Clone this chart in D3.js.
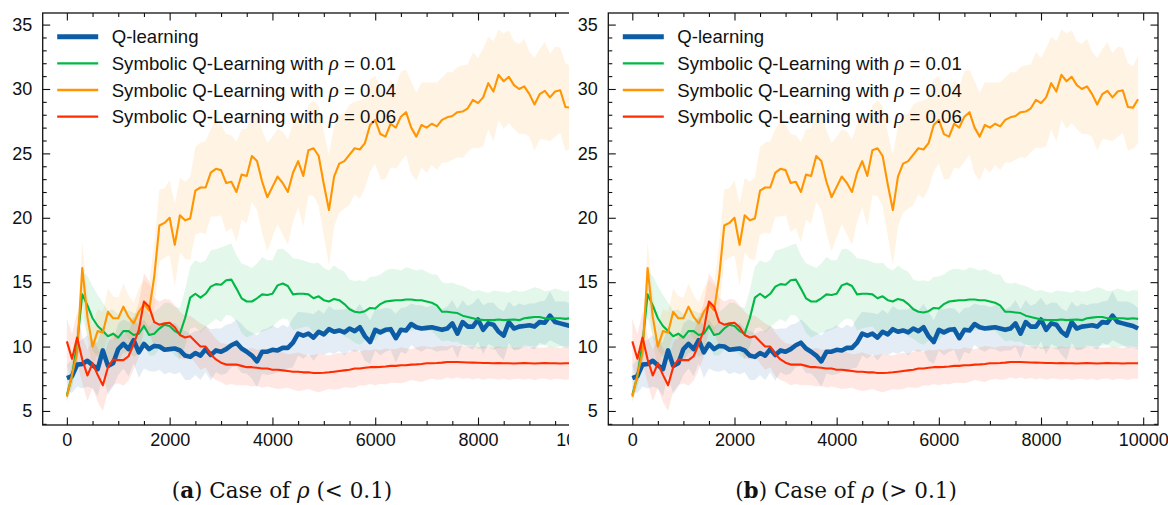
<!DOCTYPE html>
<html>
<head>
<meta charset="utf-8">
<script src="https://cdn.jsdelivr.net/npm/d3@7"></script>
<style>
  body { margin: 0; background: #fff; }
  svg { display: block; font-family: "Liberation Sans", Arial, Helvetica, sans-serif; }
  .tick text { font-size: 18px; fill: #111; }
  .tick line { stroke: #111; stroke-width: 1.1; }
  .legend text { font-size: 18.6px; fill: #111; }
  .caption { font-family: "DejaVu Serif", "Liberation Serif", serif; font-size: 21.5px; fill: #111; }
</style>
</head>
<body>
<svg id="chart" width="1168" height="505"></svg>
<script>
// training steps (x), one point every 100 steps
const steps = d3.range(0, 10000, 100);

const seriesNames = ["Q-learning", "0.01", "0.04", "0.06"];

const qLearning = [7.55,7.7,8.6,8.65,8.9,8.55,8.25,9.7,8.5,8.7, 9.8,10.2,9.8,10.5,9.55,10.2,9.8,10.05,10.0,9.75,
  9.8,9.85,9.7,9.3,9.2,9.5,9.3,9.8,9.35,9.7, 9.6,9.8,10.1,10.3,9.85,9.6,9.3,8.85,9.6,9.6,
  9.75,9.7,9.9,9.9,10.3,11.0,10.85,11.0,10.7,11.15, 10.95,11.35,11.15,11.25,11.1,11.4,11.2,11.5,10.8,10.35,
  11.3,11.1,11.3,11.35,10.65,11.3,11.25,11.75,11.5,11.4, 11.45,11.5,11.4,11.3,11.4,11.8,11.0,11.9,11.55,11.55,
  12.1,11.3,11.8,11.7,11.15,10.85,11.9,11.4,11.55,11.6, 11.65,11.55,11.9,11.85,12.4,11.9,11.8,11.7,11.6,11.4];
const qLearningSd = [1.0,1.3,1.7,1.9,2.0,1.8,2.1,1.9,2.2,1.8, 2.0,1.9,2.1,1.8,2.0,1.9,1.7,2.0,1.8,1.9,
  1.8,2.0,1.7,1.9,1.8,1.7,1.9,1.8,2.0,1.7, 1.8,1.9,1.7,1.8,1.9,1.7,1.8,2.0,1.7,1.8,
  1.9,1.7,1.8,1.6,1.9,1.7,1.8,1.6,1.8,1.7, 1.6,1.8,1.7,1.6,1.8,1.7,1.6,1.8,1.9,1.7,
  1.6,1.8,1.7,1.6,1.9,1.7,1.8,1.6,1.7,1.8, 1.6,1.7,1.8,1.6,1.7,1.8,1.9,1.7,1.6,1.8,
  1.7,1.9,1.6,1.7,1.8,1.9,1.6,1.7,1.8,1.6, 1.7,1.8,1.6,1.7,1.9,1.6,1.7,1.8,1.7,1.6];

const rho001 = [6.24,7.7,10.25,14.05,13.2,12.2,11.6,11.2,10.8,11.0, 10.7,11.2,11.2,10.9,11.0,11.6,10.9,11.0,11.4,11.7,
  11.6,11.2,11.0,12.2,13.8,14.1,13.8,14.1,14.65,14.85, 14.8,15.15,15.2,14.5,13.75,13.5,13.5,13.75,14.05,14.0,
  14.1,14.75,14.9,14.7,14.05,14.1,14.1,14.05,13.75,13.9, 13.6,13.5,13.7,13.6,13.3,12.9,12.7,12.65,12.75,13.0,
  12.95,13.3,13.5,13.55,13.6,13.6,13.65,13.65,13.6,13.6, 13.5,13.4,13.2,12.7,12.7,12.65,12.6,12.4,12.3,12.2,
  12.1,12.07,12.05,12.05,12.1,12.05,12.08,12.1,12.05,12.2, 12.25,12.3,12.3,12.2,12.15,12.2,12.2,12.15,12.2,12.15];
const rho001Sd = [0.5,0.9,1.4,1.8,2.3,2.5,2.4,2.2,2.0,1.9, 1.8,1.7,1.6,1.7,1.6,1.5,1.6,1.7,1.6,1.7,
  1.8,1.9,2.0,2.2,2.4,2.6,2.7,2.6,2.8,2.7, 2.9,2.7,2.8,2.6,2.7,2.8,2.6,2.7,2.9,2.7,
  2.6,2.8,2.7,2.6,2.8,2.7,2.6,2.5,2.7,2.6, 2.5,2.4,2.6,2.4,2.5,2.3,2.4,2.5,2.3,2.4,
  2.5,2.3,2.4,2.5,2.4,2.3,2.5,2.4,2.3,2.4, 2.3,2.2,2.4,2.3,2.2,2.3,2.2,2.3,2.2,2.1,
  2.3,2.2,2.1,2.3,2.2,2.2,2.1,2.3,2.2,2.1, 2.2,2.3,2.2,2.1,2.2,2.3,2.2,2.1,2.2,2.2];

const rho004 = [6.1,7.8,9.5,16.1,12.3,10.0,11.2,11.1,12.7,12.2, 12.2,13.1,12.3,11.8,12.7,13.3,12.8,15.4,19.4,19.6,
  20.0,17.9,20.2,19.8,19.95,22.1,22.35,22.35,23.5,23.8, 23.7,22.7,22.8,22.0,23.35,23.25,24.8,24.4,22.8,21.6,
  22.4,23.2,22.7,22.0,23.5,24.4,23.25,25.25,25.4,24.8, 22.6,20.6,23.2,24.2,24.4,24.9,25.4,25.3,25.8,27.2,
  27.6,26.5,26.3,27.3,27.0,27.85,28.2,27.0,26.3,27.2, 27.0,27.3,27.1,27.6,27.8,27.9,28.2,28.25,28.5,29.15,
  28.9,29.35,30.45,29.8,31.1,30.6,30.95,30.3,30.0,30.2, 29.6,28.8,29.6,29.85,29.35,29.8,29.9,28.6,28.55,29.2];
const rho004Sd = [0.4,0.8,1.2,2.0,1.8,1.6,1.7,1.6,1.8,1.7, 1.6,1.8,1.7,1.6,1.8,1.9,2.0,2.6,2.8,2.7,
  2.9,3.2,2.9,3.0,3.2,3.4,3.5,3.6,3.4,3.7, 3.5,3.8,3.6,3.9,3.5,3.7,3.6,3.8,4.0,4.2,
  3.9,3.7,4.0,4.1,3.8,3.6,3.9,3.5,3.7,3.9, 4.0,4.3,3.9,3.8,3.7,3.9,3.6,3.8,3.5,3.6,
  3.4,3.5,3.3,3.4,3.2,3.5,3.3,3.6,3.4,3.3, 3.5,3.2,3.4,3.3,3.5,3.4,3.5,3.6,3.4,3.7,
  3.5,3.8,3.6,3.9,3.5,3.7,3.6,3.4,3.5,3.7, 3.3,3.6,3.5,3.8,3.4,3.5,3.3,3.4,3.2,3.4];

const rho006 = [10.4,9.05,10.7,9.0,7.75,8.7,7.8,7.0,8.4,9.0, 8.95,8.95,9.25,10.2,11.3,13.5,13.1,11.9,11.7,11.8,
  11.85,11.5,10.9,10.7,10.8,10.4,10.0,10.0,9.4,9.0, 8.75,8.6,8.6,8.6,8.5,8.4,8.4,8.35,8.3,8.3,
  8.2,8.2,8.15,8.1,8.05,8.05,8.0,8.0,7.95,7.95, 7.97,8.0,8.05,8.1,8.15,8.2,8.3,8.3,8.35,8.4,
  8.4,8.42,8.45,8.5,8.5,8.55,8.55,8.6,8.62,8.65, 8.7,8.7,8.72,8.75,8.8,8.8,8.8,8.78,8.76,8.75,
  8.74,8.72,8.72,8.7,8.72,8.7,8.7,8.68,8.7,8.72, 8.7,8.68,8.7,8.72,8.7,8.7,8.68,8.7,8.7,8.7];
const rho006Sd = [1.8,1.9,2.0,1.8,2.0,1.9,2.1,2.0,1.9,2.0, 1.8,2.0,1.9,2.0,2.1,2.2,2.0,1.9,1.8,1.9,
  1.8,1.7,1.8,1.7,1.6,1.7,1.8,1.6,1.7,1.6, 1.5,1.6,1.5,1.6,1.5,1.4,1.5,1.4,1.5,1.4,
  1.4,1.5,1.4,1.3,1.4,1.5,1.4,1.3,1.4,1.5, 1.4,1.3,1.4,1.4,1.3,1.4,1.5,1.3,1.4,1.3,
  1.4,1.3,1.4,1.3,1.3,1.4,1.3,1.2,1.3,1.4, 1.3,1.2,1.3,1.3,1.2,1.3,1.2,1.3,1.2,1.3,
  1.2,1.3,1.2,1.2,1.3,1.2,1.3,1.2,1.2,1.3, 1.2,1.3,1.2,1.2,1.3,1.2,1.2,1.3,1.2,1.2];

const xTicks = [0, 2000, 4000, 6000, 8000, 10000];
const yTicks = [5, 10, 15, 20, 25, 30, 35];
const captions = [
  { tag: "a", sign: "<" },
  { tag: "b", sign: ">" }
];

const colors = { q: "#0C5DA5", g: "#00B945", o: "#FF9500", r: "#FF2C00" };

const series = [
  { name: seriesNames[0], mean: qLearning, sd: qLearningSd, color: colors.q, width: 4.6 },
  { name: seriesNames[1], mean: rho001, sd: rho001Sd, color: colors.g, width: 2.1 },
  { name: seriesNames[2], mean: rho004, sd: rho004Sd, color: colors.o, width: 2.1 },
  { name: seriesNames[3], mean: rho006, sd: rho006Sd, color: colors.r, width: 2.1 }
];

const svg = d3.select("#chart");
svg.append("rect").attr("width", 1168).attr("height", 505).attr("fill", "#fff");

const yDomain = [3.91, 35.9];
const plotTop = 13, plotBottom = 425;

// left panel is cut off by the figure edge, right one is whole
const panels = [
  { left: 42.7, right: 595.7, clip: 569, caption: captions[0], capX: 282 },
  { left: 608.3, right: 1158, clip: 1168, caption: captions[1], capX: 846 }
];

panels.forEach((p, k) => {
  svg.append("clipPath").attr("id", `clip-${k}`)
    .append("rect").attr("x", 0).attr("y", 0).attr("width", p.clip).attr("height", 470);

  const g = svg.append("g").attr("clip-path", `url(#clip-${k})`);

  const x = d3.scaleLinear().domain([-470, 10290]).range([p.left, p.right]);
  const y = d3.scaleLinear().domain(yDomain).range([plotBottom, plotTop]);

  const area = d3.area()
    .x((d, i) => x(steps[i]))
    .y0(d => y(d[0]))
    .y1(d => y(d[1]));
  const line = d3.line()
    .x((d, i) => x(steps[i]))
    .y(d => y(d));

  // bands first, then lines (matplotlib zorder)
  series.forEach(s => {
    g.append("path")
      .datum(s.mean.map((m, i) => [m - s.sd[i], m + s.sd[i]]))
      .attr("d", area)
      .attr("fill", s.color)
      .attr("fill-opacity", 0.11);
  });
  series.forEach(s => {
    g.append("path")
      .datum(s.mean)
      .attr("d", line)
      .attr("fill", "none")
      .attr("stroke", s.color)
      .attr("stroke-width", s.width)
      .attr("stroke-linejoin", "round");
  });

  // axes: ticks pointing inwards on all four sides
  const minorX = d3.range(0, 10500, 500).filter(v => v % 2000 !== 0);
  const minorY = d3.range(4, 36, 1).filter(v => v % 5 !== 0);

  const addAxis = (axis, transform) => {
    const a = g.append("g").attr("transform", transform).call(axis);
    a.select(".domain").remove();
    return a;
  };

  addAxis(d3.axisBottom(x).tickValues(xTicks).tickSize(-7.5).tickPadding(8.5).tickFormat(d3.format("d")), `translate(0,${plotBottom})`);
  addAxis(d3.axisBottom(x).tickValues(minorX).tickSize(-4).tickFormat(""), `translate(0,${plotBottom})`);
  addAxis(d3.axisTop(x).tickValues(xTicks).tickSize(-7.5).tickFormat(""), `translate(0,${plotTop})`);
  addAxis(d3.axisTop(x).tickValues(minorX).tickSize(-4).tickFormat(""), `translate(0,${plotTop})`);
  addAxis(d3.axisLeft(y).tickValues(yTicks).tickSize(-7.5).tickPadding(10.5), `translate(${p.left},0)`);
  addAxis(d3.axisLeft(y).tickValues(minorY).tickSize(-4).tickFormat(""), `translate(${p.left},0)`);
  addAxis(d3.axisRight(y).tickValues(yTicks).tickSize(-7.5).tickFormat(""), `translate(${p.right},0)`);
  addAxis(d3.axisRight(y).tickValues(minorY).tickSize(-4).tickFormat(""), `translate(${p.right},0)`);

  g.append("rect")
    .attr("x", p.left).attr("y", plotTop)
    .attr("width", p.right - p.left).attr("height", plotBottom - plotTop)
    .attr("fill", "none").attr("stroke", "#111").attr("stroke-width", 1.3);

  // legend, no frame
  const legend = g.append("g").attr("class", "legend")
    .attr("transform", `translate(${p.left + 14.5},36.8)`);
  series.forEach((s, i) => {
    const row = legend.append("g").attr("transform", `translate(0,${i * 26.6})`);
    row.append("line")
      .attr("x1", 0).attr("x2", 41)
      .attr("stroke", s.color)
      .attr("stroke-width", i === 0 ? 5 : 2.4);
    const t = row.append("text").attr("x", 54.5).attr("y", 6.5);
    if (i === 0) {
      t.text(s.name);
    } else {
      t.append("tspan").text("Symbolic Q-Learning with ");
      t.append("tspan").attr("font-family", "'Liberation Serif', serif").attr("font-style", "italic")
        .attr("font-size", "21px").text("ρ");
      t.append("tspan").text(` = ${s.name}`);
    }
  });

  // caption under the panel
  const cap = svg.append("text").attr("class", "caption")
    .attr("x", p.capX).attr("y", 498).attr("text-anchor", "middle");
  cap.append("tspan").text("(");
  cap.append("tspan").attr("font-weight", "bold").text(p.caption.tag);
  cap.append("tspan").text(") Case of ");
  cap.append("tspan").attr("font-style", "italic").text("ρ");
  cap.append("tspan").text(` (${p.caption.sign} 0.1)`);
});
</script>
</body>
</html>
